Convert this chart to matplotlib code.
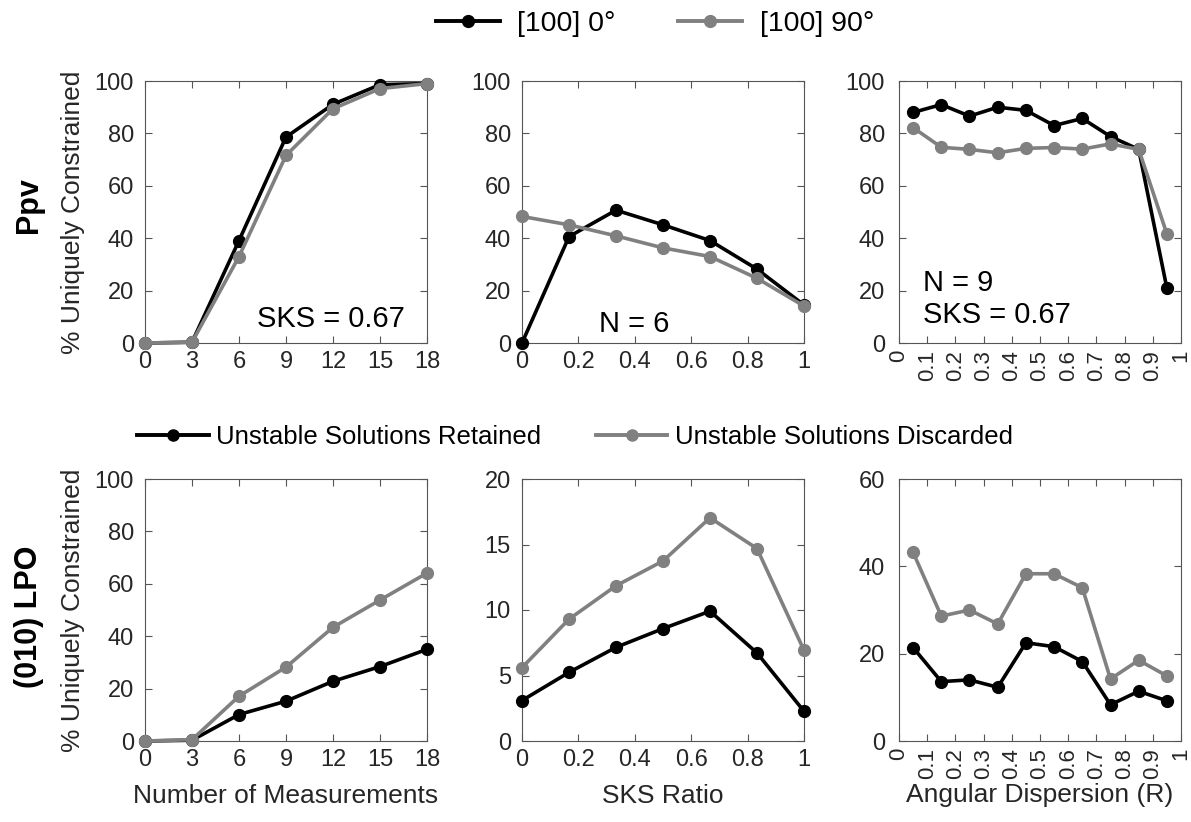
import matplotlib
matplotlib.use("Agg")
import matplotlib.pyplot as plt
from matplotlib.lines import Line2D

plt.rcParams['font.family'] = ['Liberation Sans', 'DejaVu Sans']

# ---- data ----
n_meas = [0, 3, 6, 9, 12, 15, 18]
sks_ratio = [0, 1/6, 2/6, 3/6, 4/6, 5/6, 1]
ang_disp = [0.05, 0.15, 0.25, 0.35, 0.45, 0.55, 0.65, 0.75, 0.85, 0.95]

ppv_n_0 = [0, 0.3, 39.1, 78.6, 91.1, 98.6, 99.0]
ppv_n_90 = [0, 0.3, 33.0, 71.6, 89.4, 97.1, 99.0]
ppv_sks_0 = [0, 40.6, 50.7, 45.1, 39.1, 28.2, 14.5]
ppv_sks_90 = [48.3, 45.1, 40.9, 36.3, 33.0, 24.7, 14.1]
ppv_r_0 = [88.0, 91.0, 86.6, 90.0, 88.8, 83.0, 85.7, 78.8, 73.9, 20.9]
ppv_r_90 = [82.2, 74.7, 73.9, 72.6, 74.3, 74.6, 74.0, 76.0, 73.9, 41.6]

lpo_n_ret = [0, 0.3, 10.1, 15.2, 22.8, 28.4, 35.0]
lpo_n_dis = [0, 0.5, 17.1, 28.2, 43.4, 53.8, 64.1]
lpo_sks_ret = [3.09, 5.24, 7.15, 8.58, 9.91, 6.72, 2.27]
lpo_sks_dis = [5.6, 9.3, 11.85, 13.74, 17.04, 14.69, 6.92]
lpo_r_ret = [21.4, 13.6, 14.0, 12.3, 22.5, 21.6, 18.2, 8.3, 11.4, 9.2]
lpo_r_dis = [43.2, 28.6, 30.0, 26.8, 38.3, 38.3, 35.1, 14.2, 18.5, 14.9]

legend_top = ['[100] 0°', '[100] 90°']
legend_bot = ['Unstable Solutions Retained', 'Unstable Solutions Discarded']

BLACK = '#000000'
GRAY = '#808080'
TXT = '#262626'
FS = 17
LFS = 19

W, H = 1191, 822
fig = plt.figure(figsize=(W/100, H/100), dpi=100)

def px_axes(x0, y0, x1, y1):
    return fig.add_axes([x0/W, 1 - y1/H, (x1-x0)/W, (y1-y0)/H])

lefts = [145, 522, 899]
rows = [(81, 343), (479, 741)]

def style(ax):
    for s in ax.spines.values():
        s.set_color('#555555')
        s.set_linewidth(0.8)
    ax.tick_params(direction='in', length=5, width=0.8, colors='#555555',
                   labelcolor=TXT, labelsize=FS, top=True, right=True)
    ax.tick_params(axis='x', pad=6)
    ax.tick_params(axis='y', pad=8)

def plot(ax, x, y, c):
    ax.plot(x, y, color=c, lw=2.6, marker='o', ms=8.5, mfc=c, mec=c, clip_on=False, zorder=3)

axes = [[px_axes(l, r[0], l+282, r[1]) for l in lefts] for r in rows]
for row in axes:
    for ax in row:
        style(ax)

# Top row
ax = axes[0][0]
plot(ax, n_meas, ppv_n_0, BLACK); plot(ax, n_meas, ppv_n_90, GRAY)
ax.set_xlim(0, 18); ax.set_ylim(0, 100)
ax.set_xticks(n_meas); ax.set_yticks(range(0, 101, 20))
ax.set_ylabel('% Uniquely Constrained', fontsize=LFS, color=TXT, labelpad=7)
ax.text(0.922, 0.061, 'SKS = 0.67', transform=ax.transAxes, ha='right', va='baseline', fontsize=21)

ax = axes[0][1]
plot(ax, sks_ratio, ppv_sks_0, BLACK); plot(ax, sks_ratio, ppv_sks_90, GRAY)
ax.set_xlim(0, 1); ax.set_ylim(0, 100)
ax.set_xticks([0, 0.2, 0.4, 0.6, 0.8, 1]); ax.set_xticklabels(['0', '0.2', '0.4', '0.6', '0.8', '1'])
ax.set_yticks(range(0, 101, 20))
ax.text(0.397, 0.042, 'N = 6', transform=ax.transAxes, ha='center', va='baseline', fontsize=21)

ax = axes[0][2]
plot(ax, ang_disp, ppv_r_0, BLACK); plot(ax, ang_disp, ppv_r_90, GRAY)
ax.set_xlim(0, 1); ax.set_ylim(0, 100)
ax.set_yticks(range(0, 101, 20))
ax.text(0.085, 0.198, 'N = 9', transform=ax.transAxes, ha='left', va='baseline', fontsize=21)
ax.text(0.085, 0.076, 'SKS = 0.67', transform=ax.transAxes, ha='left', va='baseline', fontsize=21)

# Bottom row
ax = axes[1][0]
plot(ax, n_meas, lpo_n_ret, BLACK); plot(ax, n_meas, lpo_n_dis, GRAY)
ax.set_xlim(0, 18); ax.set_ylim(0, 100)
ax.set_xticks(n_meas); ax.set_yticks(range(0, 101, 20))
ax.set_ylabel('% Uniquely Constrained', fontsize=LFS, color=TXT, labelpad=7)
ax.set_xlabel('Number of Measurements', fontsize=LFS, color=TXT, labelpad=9)

ax = axes[1][1]
plot(ax, sks_ratio, lpo_sks_ret, BLACK); plot(ax, sks_ratio, lpo_sks_dis, GRAY)
ax.set_xlim(0, 1); ax.set_ylim(0, 20)
ax.set_xticks([0, 0.2, 0.4, 0.6, 0.8, 1]); ax.set_xticklabels(['0', '0.2', '0.4', '0.6', '0.8', '1'])
ax.set_yticks(range(0, 21, 5))
ax.set_xlabel('SKS Ratio', fontsize=LFS, color=TXT, labelpad=9)

ax = axes[1][2]
plot(ax, ang_disp, lpo_r_ret, BLACK); plot(ax, ang_disp, lpo_r_dis, GRAY)
ax.set_xlim(0, 1); ax.set_ylim(0, 60)
ax.set_yticks(range(0, 61, 20))
ax.set_xlabel('Angular Dispersion (R)', fontsize=LFS, color=TXT, labelpad=3)

rticks = [round(0.1*i, 1) for i in range(11)]
rlabels = ['0'] + [f'{v:.1f}' for v in rticks[1:-1]] + ['1']
for ax in (axes[0][2], axes[1][2]):
    ax.set_xticks(rticks)
    ax.set_xticklabels(rlabels, rotation=90, fontsize=16)
    ax.tick_params(axis='x', pad=5)
    ax.tick_params(axis='y', pad=10)

# Row labels
fig.text(29/W, 1 - 205/H, 'Ppv', rotation=90, ha='center', va='center', fontsize=22, fontweight='bold')
fig.text(29/W, 1 - 617/H, '(010) LPO', rotation=90, ha='center', va='center', fontsize=22, fontweight='bold')

# Legends
h_top = [Line2D([], [], color=BLACK, lw=2.8, marker='o', ms=8.5),
         Line2D([], [], color=GRAY, lw=2.8, marker='o', ms=8.5)]
fig.legend(h_top, legend_top, loc='center', bbox_to_anchor=(655/W, 1 - 24/H), ncol=2,
           frameon=False, fontsize=20.5, handlelength=2.25, columnspacing=2.2, handletextpad=0.6)
h_bot = [Line2D([], [], color=BLACK, lw=2.8, marker='o', ms=8),
         Line2D([], [], color=GRAY, lw=2.8, marker='o', ms=8)]
fig.legend(h_bot, legend_bot, loc='center', bbox_to_anchor=(575/W, 1 - 437/H), ncol=2,
           frameon=False, fontsize=18.5, handlelength=2.8, columnspacing=2.1, handletextpad=0.3)

fig.savefig('out.png', dpi=100)
